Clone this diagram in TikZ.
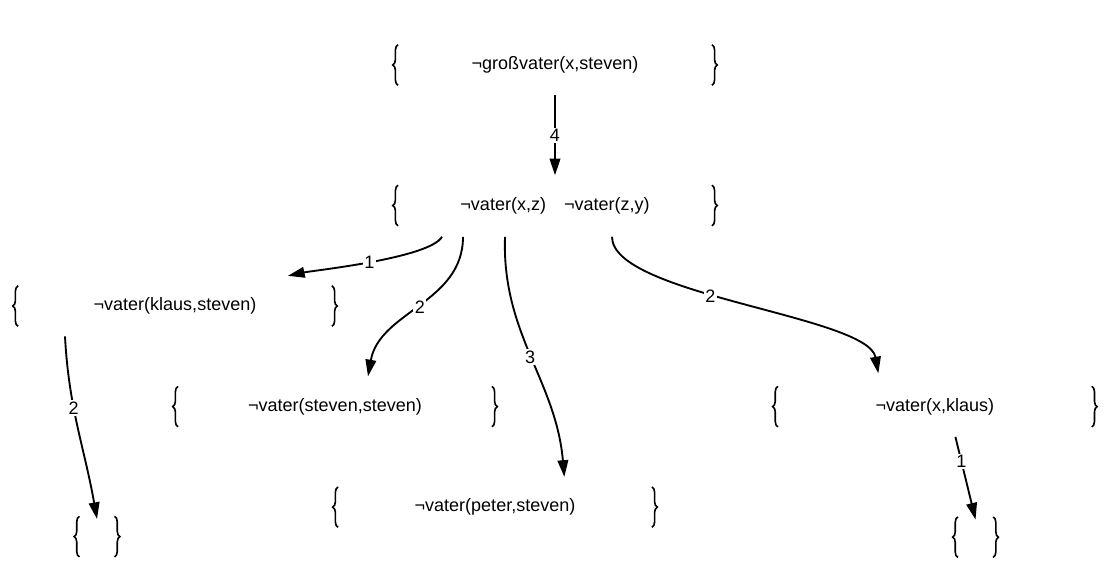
\documentclass[tikz,border=0pt]{standalone}
\usepackage{fontspec}
\setmainfont{Liberation Sans}
\usetikzlibrary{arrows.meta,positioning,decorations.pathreplacing}
\tikzset{
    %Define standard arrow tip
    >={Triangle[length=12.5pt,width=8pt]},
    %Define style for clause sets
    menge/.style={
           minimum width=235pt,
           minimum height=30pt,
           inner sep=0pt,
           text centered},
    %Define style for the empty clause set
    leer/.style={
           minimum width=26pt,
           minimum height=30pt,
           inner sep=0pt},
    % Define brace style
    klammer/.style={
           decorate,
           decoration={brace,amplitude=4pt},
           line width=1.2pt},
    % Define arrow style
    pil/.style={
           ->,
           line width=1.4pt},
    % Define label style
    zahl/.style={
           fill=white,
           inner sep=1pt}
}

\begin{document}
\begin{tikzpicture}[node distance=45pt, font=\fontsize{13.5}{16}\selectfont]
\useasboundingbox (0,0) rectangle (833.25pt,-435.75pt);
 \node[menge] (gv) at (416.25pt,-48.75pt) {¬großvater(x,steven)};
 \node[menge, below=75pt of gv] (vv) {¬vater(x,z)\quad ¬vater(z,y)};
 \node[menge, below=of vv, xshift=-285pt] (ks) {¬vater(klaus,steven)};
 \node[menge, below=of ks, xshift=120pt] (ss) {¬vater(steven,steven)};
 \node[menge, below=of ss, xshift=120pt] (ps) {¬vater(peter,steven)};
 \node[menge, right=214.5pt of ss] (xk) {¬vater(x,klaus)};
 \node[leer, below=142.5pt of ks, xshift=-58.5pt] (l1) {};
 \node[leer, below=67.5pt of xk, xshift=30.5pt] (l2) {};
 % braces round every set
 \foreach \n in {gv,vv,ks,ss,ps,xk,l1,l2}{
   \draw[klammer] (\n.south west) -- (\n.north west);
   \draw[klammer] (\n.north east) -- (\n.south east);
 }
 % resolution steps
 \draw[pil] ([yshift=-7.5pt]gv.south) -- node[zahl]{4} ([yshift=7.5pt]vv.north);
 \draw[pil] ([xshift=-84.75pt,yshift=-8.25pt]vv.south) to[out=-120,in=12,looseness=0.4]
   node[zahl]{1} ([xshift=84.75pt,yshift=7.5pt]ks.north);
 \draw[pil] ([xshift=-69pt,yshift=-8.25pt]vv.south) to[out=-90,in=80]
   node[zahl]{2} ([xshift=24.75pt,yshift=7.5pt]ss.north);
 \draw[pil] ([xshift=-37.5pt,yshift=-8.25pt]vv.south) to[out=-92,in=95]
   node[zahl]{3} ([xshift=52pt,yshift=7.5pt]ps.north);
 \draw[pil] ([xshift=42.75pt,yshift=-8.25pt]vv.south) to[out=-90,in=100,looseness=0.5]
   node[zahl,pos=0.42]{2} ([xshift=-42.4pt,yshift=9.75pt]xk.north);
 \draw[pil] ([xshift=-82.5pt,yshift=-7.5pt]ks.south) to[out=-87,in=100]
   node[zahl,pos=0.38]{2} ([yshift=-2pt]l1.north);
 \draw[pil] ([xshift=15.4pt,yshift=-7.5pt]xk.south) --
   node[zahl,pos=0.3]{1} ([yshift=-2pt]l2.north);
\end{tikzpicture}
\end{document}
